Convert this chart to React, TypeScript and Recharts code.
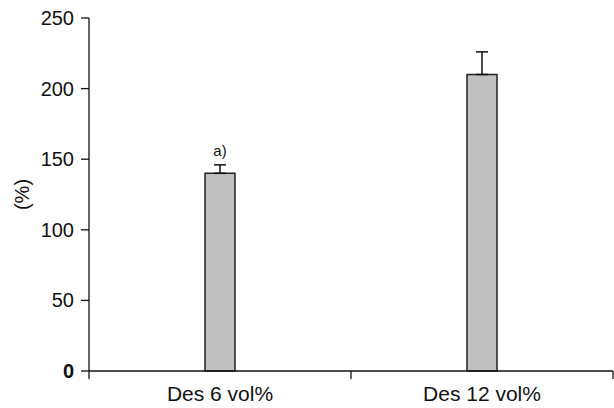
import { Bar, BarChart, ErrorBar, LabelList, XAxis, YAxis } from "recharts";

// 두 조건의 평균값 (%), 위쪽 오차 막대만 표시
const categories = ["Des 6 vol%", "Des 12 vol%"];
const positions = [0.5, 1.5];
const values = [140, 210];
const errorsUp = [6, 16];
const notes = ["a)", ""];
const yTicks = [0, 50, 100, 150, 200, 250];
const xTicks = [0, 0.5, 1, 1.5, 2];

const rows = categories.map((name, i) => ({
  name,
  pos: positions[i],
  value: values[i],
  err: [0, errorsUp[i]],
  note: notes[i],
}));

const FONT = "'Liberation Sans', Arial, sans-serif";

function YTick(props: any) {
  const { x, y, payload } = props;
  const v = payload.value;
  return (
    <g>
      <line x1={x + 7} x2={x + 15} y1={y} y2={y} stroke="#111" strokeWidth={1.3} />
      <text
        x={x}
        y={y}
        dy={7}
        textAnchor="end"
        fontSize={20}
        fontFamily={FONT}
        fontWeight={v === 0 ? 700 : 400}
        fill="#111"
      >
        {v}
      </text>
    </g>
  );
}

function XTick(props: any) {
  const { x, y, payload } = props;
  const v = payload.value;
  const idx = positions.indexOf(v);
  if (idx >= 0) {
    return (
      <text x={x} y={y + 30} textAnchor="middle" fontSize={21} fontFamily={FONT} fill="#111">
        {categories[idx]}
      </text>
    );
  }
  return <line x1={x} x2={x} y1={y} y2={y + 8} stroke="#111" strokeWidth={1.3} />;
}

function NoteLabel(props: any) {
  const { x, y, width, value } = props;
  if (!value) return null;
  return (
    <text x={x + width / 2} y={y - 17} textAnchor="middle" fontSize={15} fontFamily={FONT} fill="#111">
      {value}
    </text>
  );
}

function YTitle(props: any) {
  const vb = props.viewBox;
  const cx = 22;
  const cy = vb.y + vb.height / 2;
  return (
    <text
      x={cx}
      y={cy}
      textAnchor="middle"
      dominantBaseline="central"
      fontSize={20}
      fontFamily={FONT}
      fill="#111"
      transform={`rotate(-90 ${cx} ${cy})`}
    >
      (%)
    </text>
  );
}

export default function App() {
  return (
    <div style={{ width: 614, height: 408, background: "#fff" }}>
      <style>{`body{margin:0}`}</style>
      <BarChart
        width={614}
        height={408}
        data={rows}
        margin={{ top: 18, right: 1, bottom: 0, left: 0 }}
      >
        <XAxis
          dataKey="pos"
          type="number"
          domain={[0, 2]}
          ticks={xTicks}
          interval={0}
          height={37}
          tickLine={false}
          tickSize={0}
          tickMargin={0}
          axisLine={{ stroke: "#111", strokeWidth: 1.3 }}
          tick={<XTick />}
        />
        <YAxis
          domain={[0, 250]}
          ticks={yTicks}
          interval={0}
          width={89}
          tickLine={false}
          tickSize={8}
          tickMargin={7}
          axisLine={{ stroke: "#111", strokeWidth: 1.3 }}
          tick={<YTick />}
          label={<YTitle />}
        />
        <Bar
          dataKey="value"
          barSize={30}
          fill="#c0c0c0"
          stroke="#222"
          strokeWidth={1.5}
          isAnimationActive={false}
        >
          <ErrorBar dataKey="err" width={6} stroke="#111" strokeWidth={1.5} />
          <LabelList dataKey="note" content={<NoteLabel />} />
        </Bar>
      </BarChart>
    </div>
  );
}
